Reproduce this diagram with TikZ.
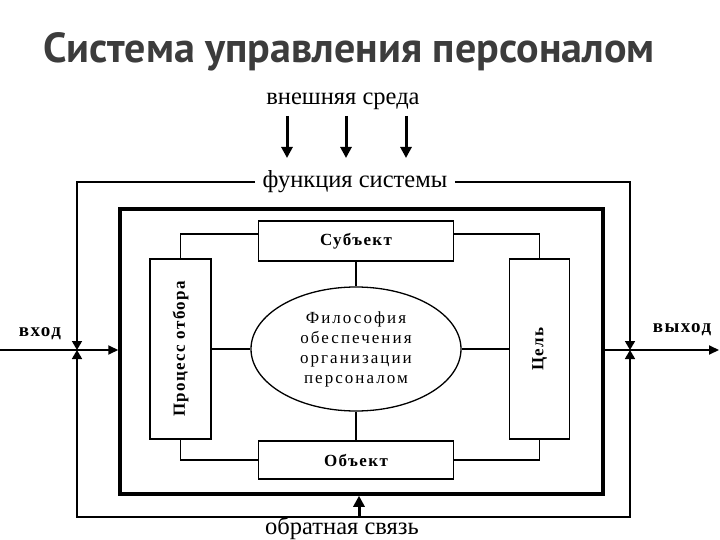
\documentclass[tikz,border=0pt]{standalone}
\usepackage{fontspec}
\setmainfont{Liberation Serif}
\newfontfamily\titlefont{PT Sans}
\usetikzlibrary{arrows.meta, positioning, shapes.geometric, calc}
\definecolor{ctitle}{HTML}{3C3C3C}
\tikzset{
  every picture/.style={line width=1.3pt},
  titletext/.style={font=\titlefont\bfseries\fontsize{42}{44}\selectfont, text=ctitle},
  extlabel/.style={font=\fontsize{24.5}{26}\selectfont, inner sep=2pt},
  sidelabel/.style={font=\bfseries\fontsize{19}{21}\selectfont\addfontfeatures{LetterSpace=8}},
  box/.style={draw, line width=1.3pt, fill=white, inner sep=0pt,
    font=\bfseries\fontsize{17}{20}\selectfont\addfontfeatures{LetterSpace=8}},
  link/.style={draw, line width=1.3pt},
  arr/.style={-{Triangle[length=10pt, width=9pt]}, line width=2pt},
  tip/.style={-{Triangle[length=9pt, width=10pt]}, line width=1.6pt},
  bigarr/.style={-{Triangle[length=11pt, width=11pt]}, line width=3pt},
}
\begin{document}
\begin{tikzpicture}[x=1pt, y=-1pt]
  \useasboundingbox (0,0) rectangle (720,540);
  % title and environment
  \node[titletext] (title) at (349,52) {Система управления персоналом};
  \node[extlabel] (env) at (343,101) {внешняя среда};
  \foreach \x [count=\i] in {287,346,406} {
    \coordinate (env\i a) at (\x,116);
    \coordinate (env\i b) at (\x,158);
    \draw[bigarr] (env\i a) -- (env\i b);
  }

  % outer frame
  \node[extlabel, inner xsep=7pt] (func) at (355,182) {функция системы};
  \coordinate (inJ) at (77,350);
  \coordinate (outJ) at (630,350);
  \coordinate (fbB) at (359,517);
  \draw[tip] (func.west) -| (inJ);
  \draw[tip] (func.east) -| (outJ);
  \draw[tip] (fbB) -| (inJ);
  \draw[tip] (fbB) -| (outJ);
  \node[extlabel] (fb) at (342,528) {обратная связь};

  % inner frame
  \node[draw, line width=3.5pt, minimum width=483pt, minimum height=285pt, inner sep=0pt] (sys) at (361.5,351.5) {};
  \draw[bigarr] (fbB) -- (fbB |- sys.south);

  % input / output
  \coordinate (inS) at (0,350);
  \coordinate (outE) at (719,350);
  \draw[arr] (inS) -- (inS -| sys.west);
  \draw[arr] (outE -| sys.east) -- (outE);
  \node[sidelabel] (in) at (40,334) {вход};
  \node[sidelabel] (out) at (682,330) {выход};

  % elements of the system
  \node[box, minimum width=195pt, minimum height=40pt] (subj) at (356,241) {Субъект};
  \node[box, minimum width=195pt, minimum height=38pt] (obj) at (356,460) {Объект};
  \node[box, rotate=90, minimum width=180pt, minimum height=61pt] (proc) at (180.5,349) {Процесс отбора};
  \node[box, rotate=90, minimum width=180pt, minimum height=60pt] (goal) at (539.5,349) {Цель};
  \node[ellipse, draw, line width=1.3pt, minimum width=210pt, minimum height=124pt, align=center,
    font=\fontsize{17}{20}\selectfont\addfontfeatures{LetterSpace=12}] (phil) at (356,349)
    {Философия\\обеспечения\\организации\\персоналом};

  \draw[link] ([yshift=7pt]subj.west) -| (proc.east);
  \draw[link] ([yshift=7pt]subj.east) -| (goal.east);
  \draw[link] (proc.west) |- (obj.west);
  \draw[link] (goal.west) |- (obj.east);
  \draw[link] (subj.south) -- (phil.north);
  \draw[link] (phil.south) -- (obj.north);
  \draw[link] (proc.south) -- (phil.west);
  \draw[link] (phil.east) -- (goal.north);
\end{tikzpicture}
\end{document}
